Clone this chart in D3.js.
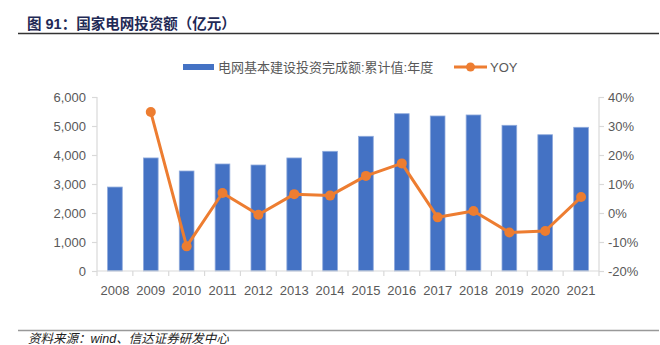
<!DOCTYPE html>
<html><head><meta charset="utf-8">
<script src="https://cdn.jsdelivr.net/npm/d3@7"></script>
<style>
html,body{margin:0;padding:0;background:#fff;}
svg{display:block;}
text{font-family:"Liberation Sans","Noto Sans CJK SC",sans-serif;}
</style></head>
<body>
<svg id="c" width="660" height="345"></svg>
<script>
const years = ["2008","2009","2010","2011","2012","2013","2014","2015","2016","2017","2018","2019","2020","2021"];
const investment = [2895,3898,3448,3690,3655,3898,4127,4645,5424,5345,5380,5024,4699,4955];
const yoy = [null,34.8,-11.5,6.9,-0.6,6.5,6.0,12.8,17.1,-1.5,0.7,-6.7,-6.2,5.5];
const leftTicks = [0,1000,2000,3000,4000,5000,6000];
const rightTicks = [-20,-10,0,10,20,30,40];
const barLabel = "电网基本建设投资完成额:累计值:年度";
const lineLabel = "YOY";
const titleText = "图 91：国家电网投资额（亿元）";
const sourceText = "资料来源：wind、信达证券研发中心";

const svg = d3.select("#c");
const L = 97, R = 599, T = 97, B = 271;
const axisColor = "#d9d9d9", labelColor = "#595959";
const blue = "#4472C4", orange = "#ED7D31";

// title
svg.append("text").attr("x",27).attr("y",29).attr("font-size",14.5).attr("font-weight","bold")
  .attr("fill","#1f2a56").text(titleText);
svg.append("line").attr("x1",18).attr("x2",659).attr("y1",33.5).attr("y2",33.5)
  .attr("stroke","#333").attr("stroke-width",1.5);

// footer
svg.append("line").attr("x1",18).attr("x2",659).attr("y1",330.5).attr("y2",330.5)
  .attr("stroke","#999").attr("stroke-width",1.5);
svg.append("text").attr("x",28).attr("y",343).attr("font-size",12.5).attr("font-style","italic")
  .attr("fill","#222").text(sourceText);

const x = d3.scaleBand().domain(years).range([L,R]).paddingInner(0.59).paddingOuter(0.295);
const yL = d3.scaleLinear().domain([0,6000]).range([B,T]);
const yR = d3.scaleLinear().domain([-20,40]).range([B,T]);

// bars
svg.append("g").selectAll("rect").data(years).join("rect")
  .attr("x",d=>x(d)).attr("width",x.bandwidth())
  .attr("y",(d,i)=>yL(investment[i])).attr("height",(d,i)=>B-yL(investment[i]))
  .attr("fill",blue).attr("stroke","#8FAADC").attr("stroke-width",0.8);

// axes
const gL = svg.append("g").attr("transform",`translate(${L},0)`)
  .call(d3.axisLeft(yL).tickValues(leftTicks).tickFormat(d3.format(",")).tickSize(5).tickPadding(6));
const gR = svg.append("g").attr("transform",`translate(${R},0)`)
  .call(d3.axisRight(yR).tickValues(rightTicks).tickFormat(d=>d+"%").tickSize(5).tickPadding(4));
const gX = svg.append("g").attr("transform",`translate(0,${B})`)
  .call(d3.axisBottom(x).tickSize(0).tickPadding(15));
[gL,gR,gX].forEach(g=>{
  g.select(".domain").attr("stroke",axisColor).attr("stroke-width",1.2);
  g.selectAll(".tick line").attr("stroke",axisColor).attr("stroke-width",1.2);
  g.selectAll(".tick text").attr("fill",labelColor).attr("font-size",13)
    .attr("font-family",'"Liberation Sans",Arial,sans-serif');
});
gL.select(".domain").attr("d",`M0,${T}V${B}`);
gR.select(".domain").attr("d",`M0,${T}V${B}`);
gX.select(".domain").attr("d",`M${L},0H${R}`);
// x boundary ticks
const bounds = years.map(d=>x(d)-x.step()*x.paddingInner()/2).concat([R]);
gX.selectAll("line.bt").data(bounds).join("line").attr("class","bt")
  .attr("x1",d=>d).attr("x2",d=>d).attr("y1",0).attr("y2",5)
  .attr("stroke",axisColor).attr("stroke-width",1.2);

// line
const pts = years.map((d,i)=>({x:x(d)+x.bandwidth()/2, v:yoy[i]})).filter(p=>p.v!==null);
svg.append("path").datum(pts)
  .attr("d",d3.line().x(p=>p.x).y(p=>yR(p.v)))
  .attr("fill","none").attr("stroke",orange).attr("stroke-width",3).attr("stroke-linejoin","round");
svg.append("g").selectAll("circle").data(pts).join("circle")
  .attr("cx",p=>p.x).attr("cy",p=>yR(p.v)).attr("r",5).attr("fill",orange);

// legend
svg.append("rect").attr("x",183).attr("y",64).attr("width",31).attr("height",6).attr("fill",blue);
svg.append("text").attr("x",218).attr("y",71.5).attr("font-size",13).attr("fill",labelColor).text(barLabel);
svg.append("line").attr("x1",454).attr("x2",487).attr("y1",67).attr("y2",67).attr("stroke",orange).attr("stroke-width",3);
svg.append("circle").attr("cx",470.5).attr("cy",67).attr("r",4.5).attr("fill",orange);
svg.append("text").attr("x",490).attr("y",71.5).attr("font-size",13).attr("fill",labelColor).text(lineLabel);
</script>
</body></html>
